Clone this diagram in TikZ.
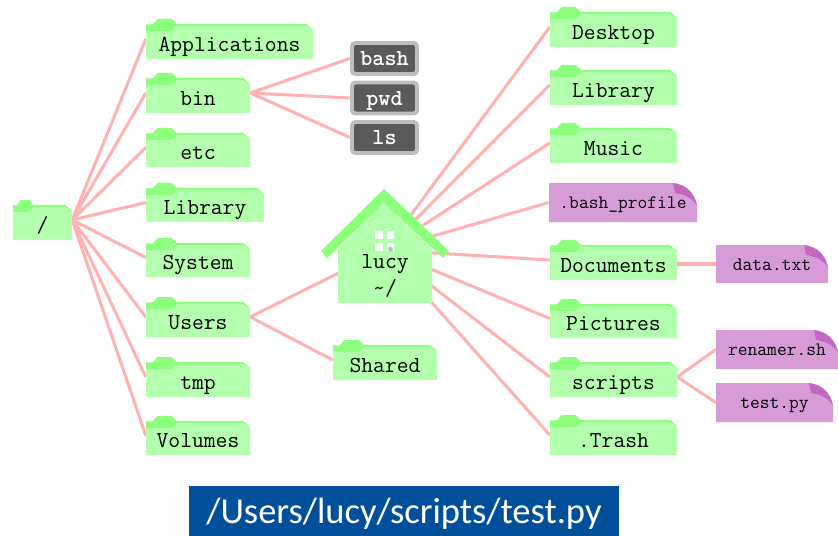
\documentclass[tikz,border=0pt]{standalone}
\usepackage{fontspec}
\newfontfamily\bannerfont{Carlito}
\usetikzlibrary{backgrounds}
\definecolor{FolderBody}{RGB}{179,255,174}
\definecolor{FolderTab}{RGB}{140,255,125}
\definecolor{LinkPink}{RGB}{255,178,178}
\definecolor{FileBody}{RGB}{215,155,215}
\definecolor{FileFold}{RGB}{192,105,190}
\definecolor{CmdGray}{RGB}{190,190,190}
\definecolor{CmdDark}{RGB}{90,90,90}
\definecolor{BannerBlue}{RGB}{0,79,155}
\tikzset{
	link/.style={LinkPink, line width=2.6pt},
	itemtext/.style={inner sep=0pt, text height=20.8pt, text depth=0pt, font=\ttfamily\fontsize{19.6}{22}\selectfont},
	filetext/.style={inner sep=0pt, text height=11pt, text depth=0pt, font=\ttfamily\fontsize{16.2}{18}\selectfont},
	cmd/.style={draw=CmdGray, fill=CmdDark, line width=3.4pt, rounded corners=3pt, inner sep=0pt,
		minimum width=1.95cm, minimum height=0.93cm, text=white, text height=12.5pt, text depth=0pt,
		font=\ttfamily\bfseries\fontsize{19.6}{22}\selectfont},
}
% name, left, body top, right, bottom, text
\newcommand{\foldernode}[6]{
	\pgfmathsetmacro{\tabw}{min(31,(#4-#2)*0.34)}
	\fill[FolderBody] (#2,#3) -- ({#4-7},#3) -- (#4,{#3+6}) -- (#4,#5) -- (#2,#5) -- cycle;
	\fill[FolderTab] (#2,{#3+7}) -- (#2,{#3+1}) -- ({#2+0.2*\tabw},{#3+1}) -- ({#2+0.37*\tabw},{#3-5}) -- ({#2+0.82*\tabw},{#3-5}) -- ({#2+\tabw},#3)
		-- ({#4-7},#3) -- (#4,{#3+6}) -- ({#4-7},{#3+2}) -- ({#2+\tabw},{#3+2}) -- ({#2+0.82*\tabw},{#3+7}) -- cycle;
	\pgfmathsetmacro{\nodew}{(#4-#2)*0.03}
	\pgfmathsetmacro{\nodeh}{(#5-#3+5)*0.03}
	\node[itemtext, minimum width=\nodew cm, minimum height=\nodeh cm] (#1) at ({(#2+#4)/2},{(#3-5+#5)/2}) {#6};
}
% name, left, top, right, bottom, text
\newcommand{\filenode}[6]{
	\fill[FileBody] (#2,#3) -- ({#4-24},#3) .. controls ({#4-10},{#3+2}) and ({#4-3},{#3+10}) .. (#4,{#3+22}) -- (#4,#5) -- (#2,#5) -- cycle;
	\fill[FileFold] ({#4-24},#3) .. controls ({#4-10},{#3+2}) and ({#4-3},{#3+10}) .. (#4,{#3+22})
		.. controls ({#4-6},{#3+14}) and ({#4-14},{#3+11}) .. ({#4-22},{#3+10}) -- cycle;
	\pgfmathsetmacro{\nodew}{(#4-#2)*0.03}
	\pgfmathsetmacro{\nodeh}{(#5-#3)*0.03}
	\node[filetext, minimum width=\nodew cm, minimum height=\nodeh cm] (#1) at ({(#2+#4)/2},{(#3+#5)/2}) {#6};
}
\begin{document}
\begin{tikzpicture}[x=0.03cm, y=-0.03cm]
	\useasboundingbox (0,0) rectangle (838,536);

	% root
	\foldernode{root}{13}{205}{72}{240}{/}

	% first level
	\foldernode{applications}{146}{24}{313}{59}{Applications}
	\foldernode{bin}{146}{78}{250}{113}{bin}
	\foldernode{etc}{146}{133}{250}{167}{etc}
	\foldernode{syslibrary}{146}{188}{264}{222}{Library}
	\foldernode{system}{146}{243}{250}{277}{System}
	\foldernode{users}{146}{302}{250}{337}{Users}
	\foldernode{tmp}{146}{362}{250}{397}{tmp}
	\foldernode{volumes}{146}{421}{250}{455}{Volumes}

	% commands
	\node[cmd] (bash) at (384.5,58.5) {bash};
	\node[cmd] (pwd) at (384.5,98) {pwd};
	\node[cmd] (ls) at (384.5,137.5) {ls};

	\foldernode{shared}{333}{345}{437}{380}{Shared}

	% home: body, roof, window
	\coordinate (hub) at (385,250);
	\fill[FolderBody] (338,249) -- (384,203) -- (432,249) -- (432,303) -- (338,303) -- cycle;
	\fill[FolderTab] (384,189) -- (449,251) -- (443,258) -- (384,203) -- (327,258) -- (321,251) -- cycle;
	\fill[white] (375,231) rectangle (383,239);
	\fill[white] (387,231) rectangle (394,239);
	\fill[white] (375,243) rectangle (383,251);
	\fill[white] (387,243) rectangle (394,251);
	\fill[CmdGray] (390.5,249) circle (2.5);
	\node[inner sep=0pt, align=center, font=\ttfamily\fontsize{19.6}{23}\selectfont] (lucy) at (385,276) {lucy\\\textasciitilde/};

	% home contents
	\foldernode{desktop}{550}{12}{677}{47}{Desktop}
	\foldernode{library}{550}{70}{677}{105}{Library}
	\foldernode{music}{550}{128}{677}{163}{Music}
	\filenode{profile}{549}{183}{697}{222}{.bash\_profile}
	\foldernode{documents}{550}{245}{677}{280}{Documents}
	\foldernode{pictures}{550}{304}{677}{338}{Pictures}
	\foldernode{scripts}{550}{362}{677}{397}{scripts}
	\foldernode{trash}{550}{420}{677}{455}{.Trash}

	% files
	\filenode{data}{716}{245}{828}{283}{data.txt}
	\filenode{renamer}{716}{330}{838}{369}{renamer.sh}
	\filenode{testpy}{716}{383}{833}{422}{test.py}

	% links
	\begin{scope}[on background layer]
		\foreach \child in {applications,bin,etc,syslibrary,system,users,tmp,volumes}
			\draw[link] (root.east) -- (\child.west);
		\foreach \child in {bash,pwd,ls}
			\draw[link] (bin.east) -- (\child.west);
		\draw[link] (users.east) -- (hub);
		\draw[link] (users.east) -- (shared.west);
		\foreach \child in {desktop,library,music,profile,documents,pictures,scripts,trash}
			\draw[link] (hub) -- (\child.west);
		\draw[link] (documents.east |- data.west) -- (data.west);
		\draw[link] (scripts.east) -- (renamer.west);
		\draw[link] (scripts.east) -- (testpy.west);
	\end{scope}

	% banner
	\node[fill=BannerBlue, text=white, inner sep=0pt, minimum width=12.9cm, minimum height=1.5cm,
		text height=22pt, text depth=0pt,
		font=\bannerfont\fontsize{31.2}{36}\selectfont] (path) at (404,511) {/Users/lucy/scripts/test.py};
\end{tikzpicture}
\end{document}
